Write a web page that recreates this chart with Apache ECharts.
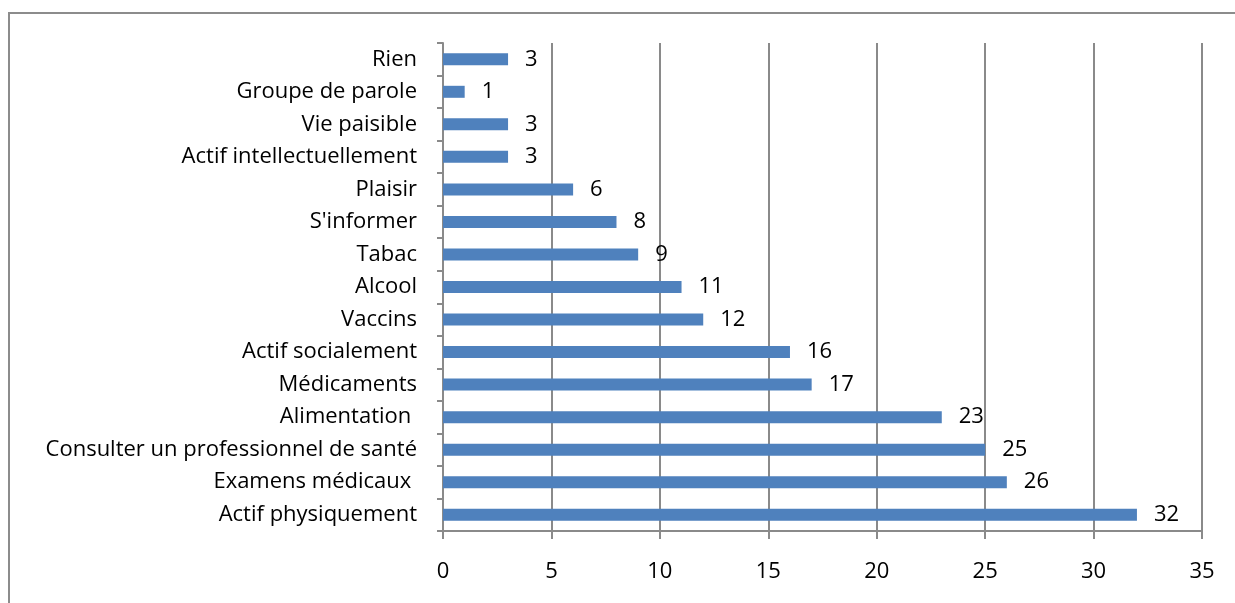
<!DOCTYPE html>
<html>
<head>
<meta charset="utf-8">
<script src="https://cdn.jsdelivr.net/npm/echarts@6/dist/echarts.min.js"></script>
<style>
html,body{margin:0;padding:0;background:#fff;}
#c{width:1235px;height:603px;}
</style>
</head>
<body>
<div id="c"></div>
<script>
const categories = ['Actif physiquement', 'Examens médicaux ', 'Consulter un professionnel de santé', 'Alimentation ', 'Médicaments', 'Actif socialement', 'Vaccins', 'Alcool', 'Tabac', "S'informer", 'Plaisir', 'Actif intellectuellement', 'Vie paisible', 'Groupe de parole', 'Rien'];
const values = [32, 26, 25, 23, 17, 16, 12, 11, 9, 8, 6, 3, 3, 1, 3];
const xTicks = [0, 5, 10, 15, 20, 25, 30, 35];

const chart = echarts.init(document.getElementById('c'));
const font = '"Open Sans", sans-serif';
const gridCol = '#8a8a8a';
chart.setOption({
  animation: false,
  backgroundColor: '#fff',
  graphic: [{
    type: 'rect', z: -1,
    shape: {x: 9, y: 13, width: 1400, height: 800},
    style: {fill: 'none', stroke: '#8c8c8c', lineWidth: 2}
  }],
  grid: {left: 443, right: 33, top: 43, bottom: 72},
  xAxis: {
    type: 'value', min: xTicks[0], max: xTicks[xTicks.length-1], interval: 5,
    axisLine: {show: true, lineStyle: {color: gridCol, width: 2}},
    axisTick: {show: true, length: 8, lineStyle: {color: gridCol, width: 2}},
    splitLine: {show: true, lineStyle: {color: gridCol, width: 2}},
    axisLabel: {color: '#000', fontSize: 22, fontFamily: font, margin: 30}
  },
  yAxis: {
    type: 'category', data: categories,
    axisLine: {show: true, lineStyle: {color: gridCol, width: 2}},
    axisTick: {show: true, length: 6, lineStyle: {color: gridCol, width: 2}},
    axisLabel: {color: '#000', fontSize: 22, fontFamily: font, margin: 26}
  },
  series: [{
    type: 'bar', data: values, barWidth: 12,
    itemStyle: {color: '#4F81BD'},
    label: {show: true, position: 'right', distance: 17, color: '#000', fontSize: 22, fontFamily: font}
  }]
});
</script>
</body>
</html>
